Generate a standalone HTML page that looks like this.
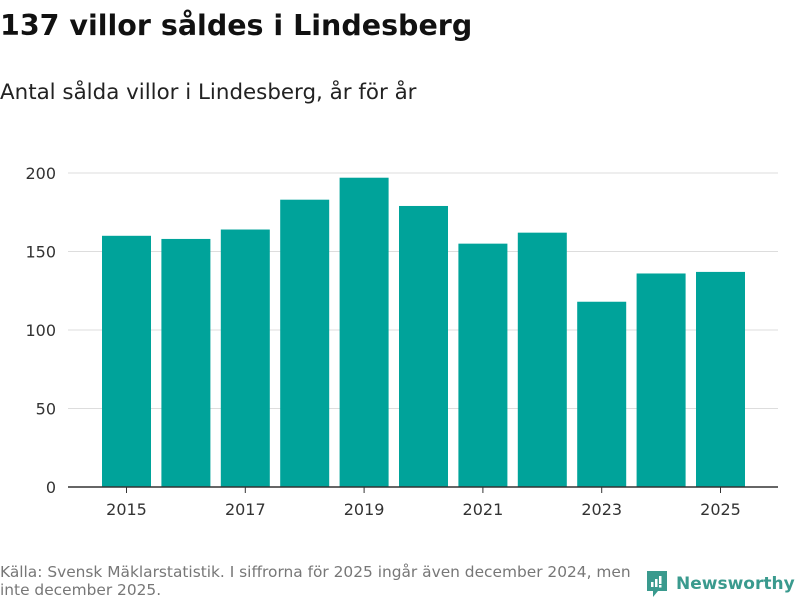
<!DOCTYPE html>
<html><head><meta charset="utf-8"><style>
body{margin:0;width:800px;height:600px;background:#fff;font-family:"DejaVu Sans","Liberation Sans",sans-serif;overflow:hidden;position:relative}
h1{position:absolute;left:0;top:9px;margin:0;font-size:28.5px;font-weight:bold;color:#111}
.sub{position:absolute;left:0;top:80px;font-size:21.4px;color:#222}
.src{position:absolute;left:0;top:563px;font-size:15.4px;color:#777;line-height:18px;width:640px}
.logo{position:absolute;left:645px;top:569px;display:flex;align-items:center;gap:7px;color:#3a9a8e;font-size:17px;font-weight:bold}
</style></head><body>
<h1>137 villor såldes i Lindesberg</h1>
<div class="sub">Antal sålda villor i Lindesberg, år för år</div>
<svg id="chart" width="800" height="600" style="position:absolute;left:0;top:0"></svg>
<div class="src">Källa: Svensk Mäklarstatistik. I siffrorna för 2025 ingår även december 2024, men inte december 2025.</div>
<div class="logo">
<svg width="24" height="30" viewBox="0 0 24 30"><path d="M2 2h20v20H13l-5 6v-6H2z" fill="#3a9a8e"/><rect x="6" y="13" width="2.5" height="5" fill="#fff"/><rect x="10" y="10" width="2.5" height="8" fill="#fff"/><rect x="14" y="7" width="2.5" height="8" fill="#fff"/><rect x="14" y="16" width="2.5" height="2.5" fill="#fff"/></svg>
<span>Newsworthy</span></div>
<script>
const years=[2015,2016,2017,2018,2019,2020,2021,2022,2023,2024,2025];
const values=[160,158,164,183,197,179,155,162,118,136,137];
const yTicks=[0,50,100,150,200];
const xTickLabels=[2015,2017,2019,2021,2023,2025];
const NS="http://www.w3.org/2000/svg",svg=document.getElementById('chart');
const x0=68,x1=778,y0=487,yTop=173,yMax=200;
const bandStart=96.8,bandEnd=750.2;
const step=(bandEnd-bandStart)/years.length;
const xs=i=>bandStart+step*(i+0.5);
const ys=v=>y0-(y0-yTop)*v/yMax;
function mk(t,a){const e=document.createElementNS(NS,t);for(const k in a)e.setAttribute(k,a[k]);svg.appendChild(e);return e;}
yTicks.forEach(v=>{
 if(v>0){const g=mk('line',{x1:x0,x2:x1,y1:ys(v),y2:ys(v),stroke:'#ddd','stroke-width':1});
 
 }
 const t=mk('text',{x:56,y:ys(v)+6,'text-anchor':'end','font-size':16,fill:'#333'});t.textContent=v;
 
 
});
years.forEach((y,i)=>{
 const b=mk('rect',{x:xs(i)-24.5,y:ys(values[i]),width:49,height:y0-ys(values[i]),fill:'#00a39a'});
 
 
 if(xTickLabels.includes(y)){
  const tk=mk('line',{x1:xs(i),x2:xs(i),y1:y0,y2:y0+6,stroke:'#333'});
  
  
  const t=mk('text',{x:xs(i),y:515,'text-anchor':'middle','font-size':16,fill:'#333'});t.textContent=y;
  
  
 }
});
const ax=mk('line',{x1:x0,x2:x1,y1:y0,y2:y0,stroke:'#333','stroke-width':1.5});


</script>
</body></html>
